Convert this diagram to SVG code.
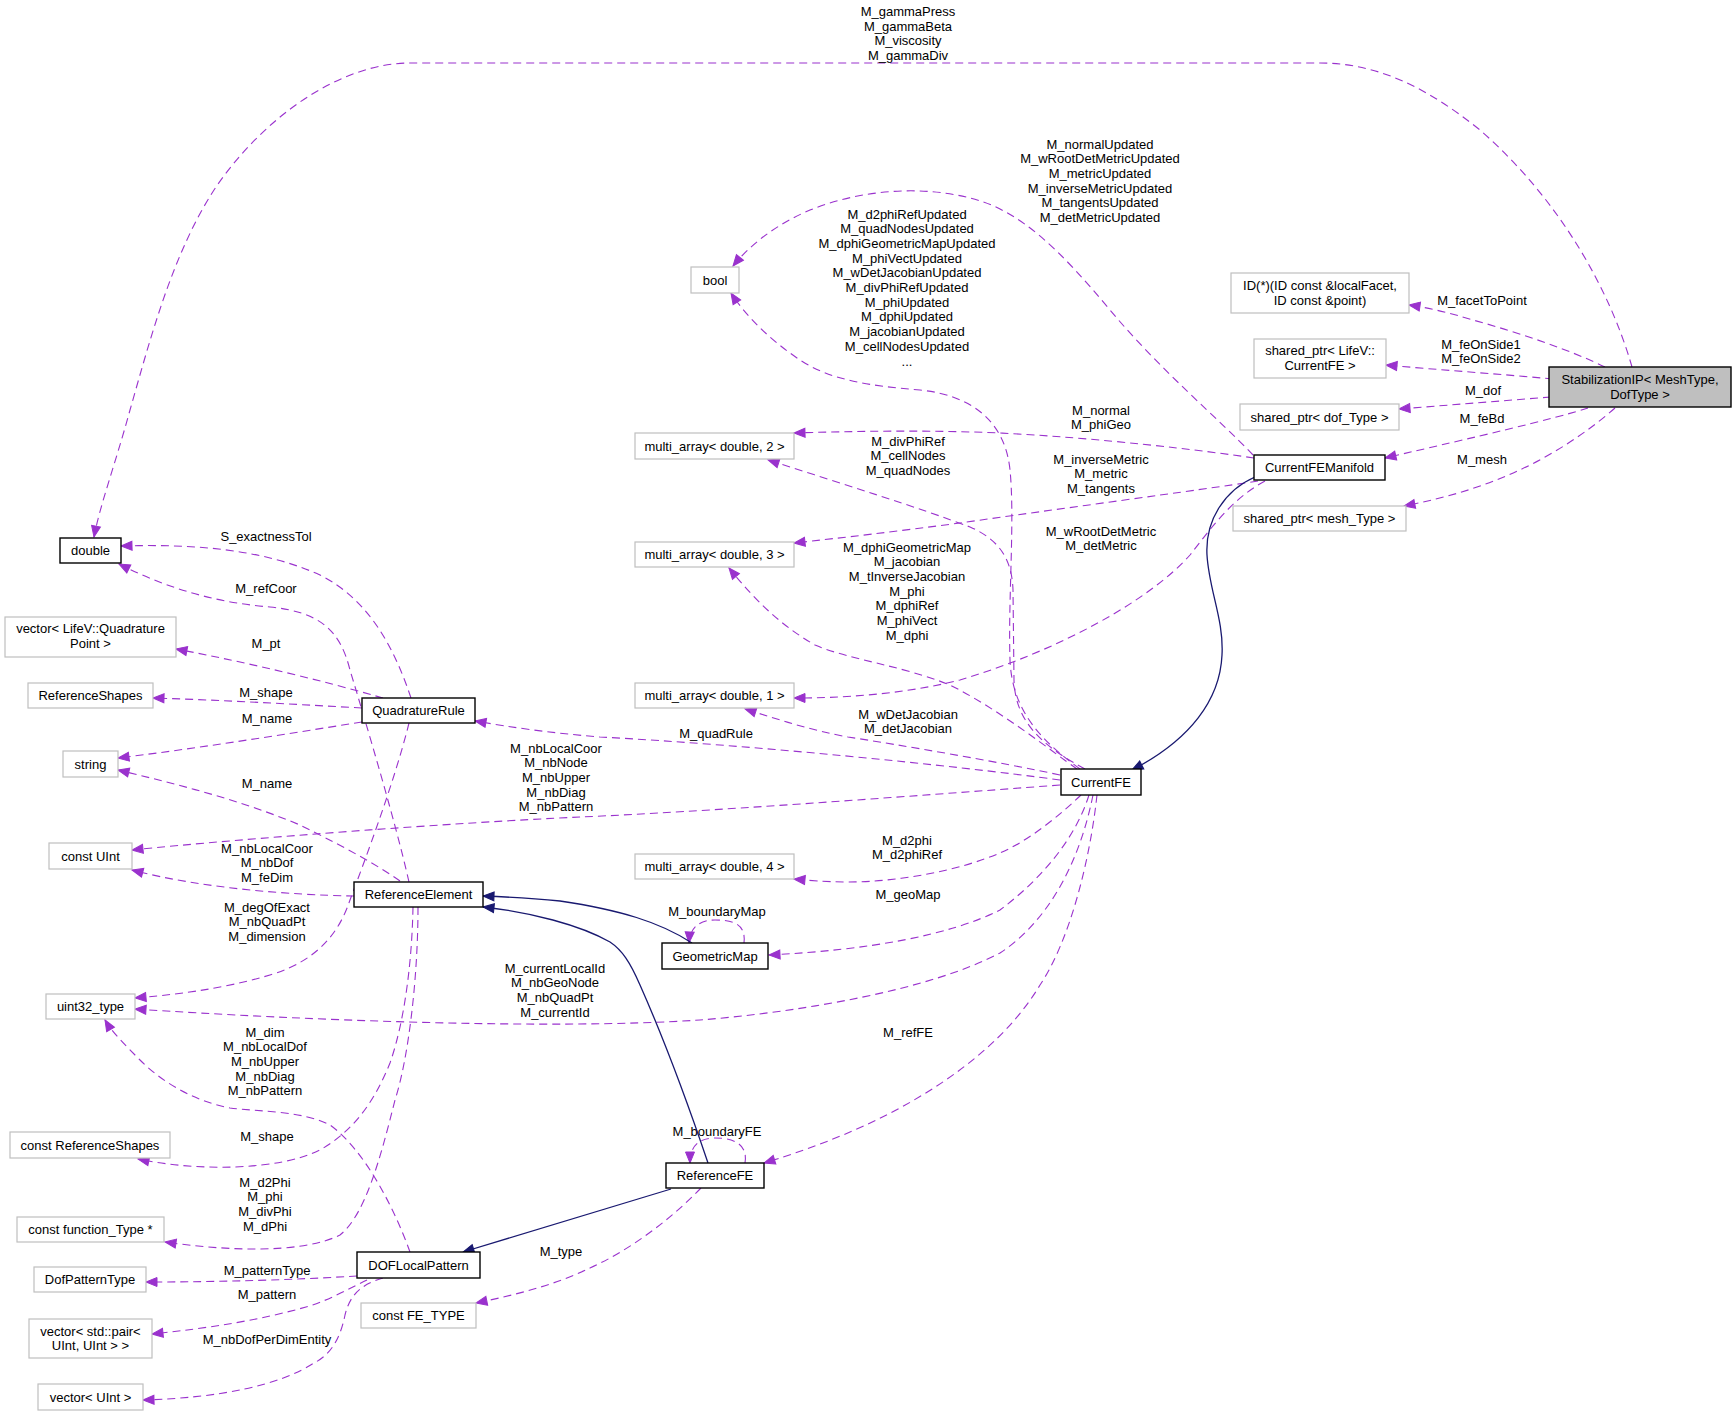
<svg xmlns="http://www.w3.org/2000/svg" width="1736" height="1416" viewBox="0 0 1736 1416">
<defs>
<style>
text{font-family:"Liberation Sans",Arial,Helvetica,sans-serif;font-size:13px;fill:#000;text-anchor:middle}
.nb rect{fill:#fff;stroke:#000;stroke-width:1.4}
.ng rect{fill:#fff;stroke:#bfbfbf;stroke-width:1.2}
.root rect{fill:#bfbfbf;stroke:#000;stroke-width:1.4}
.e{fill:none;stroke:#9a32cd;stroke-width:1.1;stroke-dasharray:8,5;marker-end:url(#ap)}
.i{fill:none;stroke:#191970;stroke-width:1.3;marker-end:url(#ab)}
</style>
<marker id="ap" markerUnits="userSpaceOnUse" markerWidth="12" markerHeight="9" viewBox="0 0 12 9" refX="11" refY="4.5" orient="auto" overflow="visible"><path d="M0,0 L11,4.5 L0,9 z" fill="#9a32cd" stroke="#9a32cd" stroke-width="1"/></marker>
<marker id="ab" markerUnits="userSpaceOnUse" markerWidth="12" markerHeight="9" viewBox="0 0 12 9" refX="11" refY="4.5" orient="auto" overflow="visible"><path d="M0,0 L11,4.5 L0,9 z" fill="#191970" stroke="#191970" stroke-width="1"/></marker>
</defs>
<rect width="1736" height="1416" fill="#fff"/>
<g id="connectors">
<path class="e" d="M1632,367 C1610,290 1560,200 1480,130 C1430,90 1380,63 1320,63 L410,63 C340,63 262,118 214,190 C172,255 150,340 130,410 C115,465 100,505 94,537"/>
<text x="908" y="16"><tspan x="908">M_gammaPress</tspan><tspan x="908" dy="14.7">M_gammaBeta</tspan><tspan x="908" dy="14.7">M_viscosity</tspan><tspan x="908" dy="14.7">M_gammaDiv</tspan></text>
<path class="e" d="M1605,367 C1570,350 1520,333 1473,320 C1450,313 1430,308 1409,305"/>
<text x="1482" y="304.5">M_facetToPoint</text>
<path class="e" d="M1553,379 C1500,374 1440,370 1386,365"/>
<text x="1481" y="348.5"><tspan x="1481">M_feOnSide1</tspan><tspan x="1481" dy="14.7">M_feOnSide2</tspan></text>
<path class="e" d="M1551,397 C1500,401 1450,405 1399,409"/>
<text x="1483" y="394.5">M_dof</text>
<path class="e" d="M1588,408 C1550,420 1480,436 1385,458"/>
<text x="1482" y="422.5">M_feBd</text>
<path class="e" d="M1615,408 C1590,430 1560,450 1530,465 C1490,485 1450,497 1404,506"/>
<text x="1482" y="463.5">M_mesh</text>
<path class="e" d="M1253,455 C1220,420 1160,370 1110,310 C1060,250 1020,210 970,198 C920,185 860,190 810,210 C775,225 750,245 733,266"/>
<text x="1100" y="148.5"><tspan x="1100">M_normalUpdated</tspan><tspan x="1100" dy="14.7">M_wRootDetMetricUpdated</tspan><tspan x="1100" dy="14.7">M_metricUpdated</tspan><tspan x="1100" dy="14.7">M_inverseMetricUpdated</tspan><tspan x="1100" dy="14.7">M_tangentsUpdated</tspan><tspan x="1100" dy="14.7">M_detMetricUpdated</tspan></text>
<path class="e" d="M1254,458 C1200,450 1100,438 1000,433 C930,430 860,431 794,433"/>
<text x="1101" y="414.5"><tspan x="1101">M_normal</tspan><tspan x="1101" dy="14.7">M_phiGeo</tspan></text>
<path class="e" d="M1258,481 C1200,490 1050,510 960,523 C900,531 840,538 794,543"/>
<text x="1101" y="463.5"><tspan x="1101">M_inverseMetric</tspan><tspan x="1101" dy="14.7">M_metric</tspan><tspan x="1101" dy="14.7">M_tangents</tspan></text>
<path class="e" d="M1265,481 C1230,500 1210,530 1190,555 C1150,600 1060,650 960,680 C900,695 840,698 794,698"/>
<text x="1101" y="535.5"><tspan x="1101">M_wRootDetMetric</tspan><tspan x="1101" dy="14.7">M_detMetric</tspan></text>
<path class="i" d="M1255,477 C1225,490 1205,520 1207,555 C1209,590 1224,620 1222,655 C1220,700 1190,740 1132,770"/>
<path class="e" d="M1080,769 C1040,740 1012,710 1010,660 C1008,600 1015,520 1010,470 C1005,420 970,395 920,390 C870,386 830,380 800,360 C770,340 745,315 731,293"/>
<text x="907" y="218.5"><tspan x="907">M_d2phiRefUpdated</tspan><tspan x="907" dy="14.7">M_quadNodesUpdated</tspan><tspan x="907" dy="14.7">M_dphiGeometricMapUpdated</tspan><tspan x="907" dy="14.7">M_phiVectUpdated</tspan><tspan x="907" dy="14.7">M_wDetJacobianUpdated</tspan><tspan x="907" dy="14.7">M_divPhiRefUpdated</tspan><tspan x="907" dy="14.7">M_phiUpdated</tspan><tspan x="907" dy="14.7">M_dphiUpdated</tspan><tspan x="907" dy="14.7">M_jacobianUpdated</tspan><tspan x="907" dy="14.7">M_cellNodesUpdated</tspan><tspan x="907" dy="14.7">...</tspan></text>
<path class="e" d="M1085,769 C1040,745 1015,720 1014,680 L1013,590 C1012,560 1000,540 970,527 C920,508 840,483 768,460"/>
<text x="908" y="445.5"><tspan x="908">M_divPhiRef</tspan><tspan x="908" dy="14.7">M_cellNodes</tspan><tspan x="908" dy="14.7">M_quadNodes</tspan></text>
<path class="e" d="M1077,769 C1050,750 1000,710 950,685 C900,665 850,660 815,645 C780,625 755,600 729,568"/>
<text x="907" y="551.5"><tspan x="907">M_dphiGeometricMap</tspan><tspan x="907" dy="14.7">M_jacobian</tspan><tspan x="907" dy="14.7">M_tInverseJacobian</tspan><tspan x="907" dy="14.7">M_phi</tspan><tspan x="907" dy="14.7">M_dphiRef</tspan><tspan x="907" dy="14.7">M_phiVect</tspan><tspan x="907" dy="14.7">M_dphi</tspan></text>
<path class="e" d="M1060,775 C1000,762 900,745 848,737 C810,730 780,720 745,709"/>
<text x="908" y="718.5"><tspan x="908">M_wDetJacobian</tspan><tspan x="908" dy="14.7">M_detJacobian</tspan></text>
<path class="e" d="M1060,780 C950,765 750,745 600,737 C550,733 510,727 475,721"/>
<text x="716" y="737.5">M_quadRule</text>
<path class="e" d="M1060,785 C900,797 700,812 580,817 C450,823 250,838 132,850"/>
<text x="556" y="752.5"><tspan x="556">M_nbLocalCoor</tspan><tspan x="556" dy="14.7">M_nbNode</tspan><tspan x="556" dy="14.7">M_nbUpper</tspan><tspan x="556" dy="14.7">M_nbDiag</tspan><tspan x="556" dy="14.7">M_nbPattern</tspan></text>
<path class="e" d="M1081,795 C1060,815 1030,840 1000,853 C960,870 900,882 848,882 C825,882 805,880 794,879"/>
<text x="907" y="844.5"><tspan x="907">M_d2phi</tspan><tspan x="907" dy="14.7">M_d2phiRef</tspan></text>
<path class="e" d="M1089,795 C1075,840 1040,880 1000,910 C950,935 870,950 769,955"/>
<text x="908" y="898.5">M_geoMap</text>
<path class="e" d="M1093,795 C1080,860 1050,920 1000,953 C930,990 800,1012 700,1020 C550,1030 300,1020 135,1009"/>
<text x="555" y="972.5"><tspan x="555">M_currentLocalId</tspan><tspan x="555" dy="14.7">M_nbGeoNode</tspan><tspan x="555" dy="14.7">M_nbQuadPt</tspan><tspan x="555" dy="14.7">M_currentId</tspan></text>
<path class="e" d="M1097,795 C1090,860 1070,940 1040,985 C1010,1035 960,1075 900,1108 C850,1135 800,1152 764,1163"/>
<text x="908" y="1036.5">M_refFE</text>
<path class="e" d="M411,698 C395,650 370,600 320,575 C260,548 190,544 121,546"/>
<text x="266" y="540.5">S_exactnessTol</text>
<path class="e" d="M383,698 C320,680 250,663 176,649"/>
<text x="266" y="647.5">M_pt</text>
<path class="e" d="M362,708 C290,704 220,700 153,698"/>
<text x="266" y="696.5">M_shape</text>
<path class="e" d="M362,722 C280,735 200,748 118,758"/>
<text x="267" y="722.5">M_name</text>
<path class="e" d="M409,723 C395,780 365,860 350,900 C340,930 320,960 270,975 C220,990 170,995 135,998"/>
<text x="267" y="911.5"><tspan x="267">M_degOfExact</tspan><tspan x="267" dy="14.7">M_nbQuadPt</tspan><tspan x="267" dy="14.7">M_dimension</tspan></text>
<path class="e" d="M409,882 C395,820 365,720 350,670 C340,630 320,612 270,607 C220,603 170,590 119,564"/>
<text x="266" y="592.5">M_refCoor</text>
<path class="e" d="M400,881 C370,860 330,840 300,825 C240,800 180,785 118,770"/>
<text x="267" y="787.5">M_name</text>
<path class="e" d="M354,896 C290,895 200,888 132,870"/>
<text x="267" y="852.5"><tspan x="267">M_nbLocalCoor</tspan><tspan x="267" dy="14.7">M_nbDof</tspan><tspan x="267" dy="14.7">M_feDim</tspan></text>
<path class="e" d="M413,907 C412,960 405,1020 390,1063 C375,1100 355,1130 320,1150 C280,1170 200,1172 138,1159"/>
<text x="267" y="1140.5">M_shape</text>
<path class="e" d="M418,907 C418,980 408,1060 395,1100 C380,1160 365,1215 340,1235 C300,1255 220,1250 165,1242"/>
<text x="265" y="1186.5"><tspan x="265">M_d2Phi</tspan><tspan x="265" dy="14.7">M_phi</tspan><tspan x="265" dy="14.7">M_divPhi</tspan><tspan x="265" dy="14.7">M_dPhi</tspan></text>
<path class="e" d="M410,1252 C395,1210 365,1150 330,1125 C300,1110 260,1112 230,1108 C190,1100 160,1080 140,1060 C125,1045 112,1032 105,1020"/>
<text x="265" y="1036.5"><tspan x="265">M_dim</tspan><tspan x="265" dy="14.7">M_nbLocalDof</tspan><tspan x="265" dy="14.7">M_nbUpper</tspan><tspan x="265" dy="14.7">M_nbDiag</tspan><tspan x="265" dy="14.7">M_nbPattern</tspan></text>
<path class="e" d="M357,1276 C290,1280 220,1282 146,1282"/>
<text x="267" y="1274.5">M_patternType</text>
<path class="e" d="M367,1280 C350,1288 330,1300 306,1307 C260,1320 210,1328 152,1334"/>
<text x="267" y="1298.5">M_pattern</text>
<path class="e" d="M383,1278 C360,1285 350,1295 345,1315 C340,1340 330,1355 314,1363 C280,1385 220,1398 143,1400"/>
<text x="267" y="1343.5">M_nbDofPerDimEntity</text>
<path class="e" d="M701,1188 C670,1220 630,1250 590,1268 C555,1285 515,1295 476,1303"/>
<text x="561" y="1255.5">M_type</text>
<path class="e" d="M745,1163 C748,1145 735,1138 715,1138 C700,1138 690,1145 690,1163"/>
<text x="717" y="1135.5">M_boundaryFE</text>
<path class="e" d="M744,943 C746,925 735,920 715,920 C700,920 690,927 689,943"/>
<text x="717" y="915.5">M_boundaryMap</text>
<path class="i" d="M671,1189 L463,1252"/>
<path class="i" d="M708,1163 C685,1095 660,1030 640,985 C630,962 622,950 610,942 C580,925 530,912 483,907"/>
<path class="i" d="M692,943 C660,922 620,910 560,901 C530,898 510,897 483,896"/>
</g>
<g id="node-StabilizationIP" class="root"><rect x="1549" y="367" width="182" height="40"/><text x="1640" y="384">StabilizationIP&lt; MeshType,</text><text x="1640" y="399">DofType &gt;</text></g>
<g id="node-IDfunc" class="ng"><rect x="1231" y="273" width="178" height="40"/><text x="1320" y="290">ID(*)(ID const &amp;localFacet,</text><text x="1320" y="305">ID const &amp;point)</text></g>
<g id="node-sp-CurrentFE" class="ng"><rect x="1254" y="339" width="132" height="39"/><text x="1320" y="354.5">shared_ptr&lt; LifeV::</text><text x="1320" y="369.5">CurrentFE &gt;</text></g>
<g id="node-sp-dof" class="ng"><rect x="1240" y="404" width="159" height="26"/><text x="1319.5" y="421.5">shared_ptr&lt; dof_Type &gt;</text></g>
<g id="node-CurrentFEManifold" class="nb"><rect x="1254" y="455" width="131" height="25"/><text x="1319.5" y="472">CurrentFEManifold</text></g>
<g id="node-sp-mesh" class="ng"><rect x="1233" y="506" width="173" height="25"/><text x="1319.5" y="523">shared_ptr&lt; mesh_Type &gt;</text></g>
<g id="node-bool" class="ng"><rect x="691" y="267" width="48" height="26"/><text x="715" y="284.5">bool</text></g>
<g id="node-ma2" class="ng"><rect x="635" y="433" width="159" height="26"/><text x="714.5" y="450.5">multi_array&lt; double, 2 &gt;</text></g>
<g id="node-ma3" class="ng"><rect x="635" y="542" width="159" height="25"/><text x="714.5" y="559">multi_array&lt; double, 3 &gt;</text></g>
<g id="node-ma1" class="ng"><rect x="635" y="683" width="159" height="25"/><text x="714.5" y="700">multi_array&lt; double, 1 &gt;</text></g>
<g id="node-CurrentFE" class="nb"><rect x="1061" y="769" width="80" height="26"/><text x="1101" y="786.5">CurrentFE</text></g>
<g id="node-ma4" class="ng"><rect x="635" y="854" width="159" height="25"/><text x="714.5" y="871">multi_array&lt; double, 4 &gt;</text></g>
<g id="node-GeometricMap" class="nb"><rect x="662" y="943" width="106" height="26"/><text x="715" y="960.5">GeometricMap</text></g>
<g id="node-ReferenceFE" class="nb"><rect x="666" y="1163" width="98" height="25"/><text x="715" y="1180">ReferenceFE</text></g>
<g id="node-double" class="nb"><rect x="60" y="538" width="61" height="25"/><text x="90.5" y="555">double</text></g>
<g id="node-vecQP" class="ng"><rect x="5" y="617" width="171" height="40"/><text x="90.5" y="632.5">vector&lt; LifeV::Quadrature</text><text x="90.5" y="647.5">Point &gt;</text></g>
<g id="node-ReferenceShapes" class="ng"><rect x="28" y="683" width="125" height="25"/><text x="90.5" y="700">ReferenceShapes</text></g>
<g id="node-QuadratureRule" class="nb"><rect x="362" y="698" width="113" height="25"/><text x="418.5" y="715">QuadratureRule</text></g>
<g id="node-string" class="ng"><rect x="63" y="751" width="55" height="26"/><text x="90.5" y="768.5">string</text></g>
<g id="node-constUInt" class="ng"><rect x="49" y="843" width="83" height="26"/><text x="90.5" y="860.5">const UInt</text></g>
<g id="node-ReferenceElement" class="nb"><rect x="354" y="882" width="129" height="25"/><text x="418.5" y="899">ReferenceElement</text></g>
<g id="node-uint32" class="ng"><rect x="46" y="994" width="89" height="25"/><text x="90.5" y="1011">uint32_type</text></g>
<g id="node-constRefShapes" class="ng"><rect x="10" y="1132" width="160" height="26"/><text x="90" y="1149.5">const ReferenceShapes</text></g>
<g id="node-constFunc" class="ng"><rect x="17" y="1217" width="147" height="25"/><text x="90.5" y="1234">const function_Type *</text></g>
<g id="node-DOFLocalPattern" class="nb"><rect x="357" y="1252" width="123" height="26"/><text x="418.5" y="1269.5">DOFLocalPattern</text></g>
<g id="node-DofPatternType" class="ng"><rect x="34" y="1267" width="112" height="25"/><text x="90" y="1284">DofPatternType</text></g>
<g id="node-vecPair" class="ng"><rect x="29" y="1319" width="123" height="39"/><text x="90.5" y="1335.5">vector&lt; std::pair&lt;</text><text x="90.5" y="1349.5">UInt, UInt &gt; &gt;</text></g>
<g id="node-constFEType" class="ng"><rect x="361" y="1303" width="115" height="25"/><text x="418.5" y="1320">const FE_TYPE</text></g>
<g id="node-vecUInt" class="ng"><rect x="38" y="1384" width="105" height="26"/><text x="90.5" y="1401.5">vector&lt; UInt &gt;</text></g>
</svg>
